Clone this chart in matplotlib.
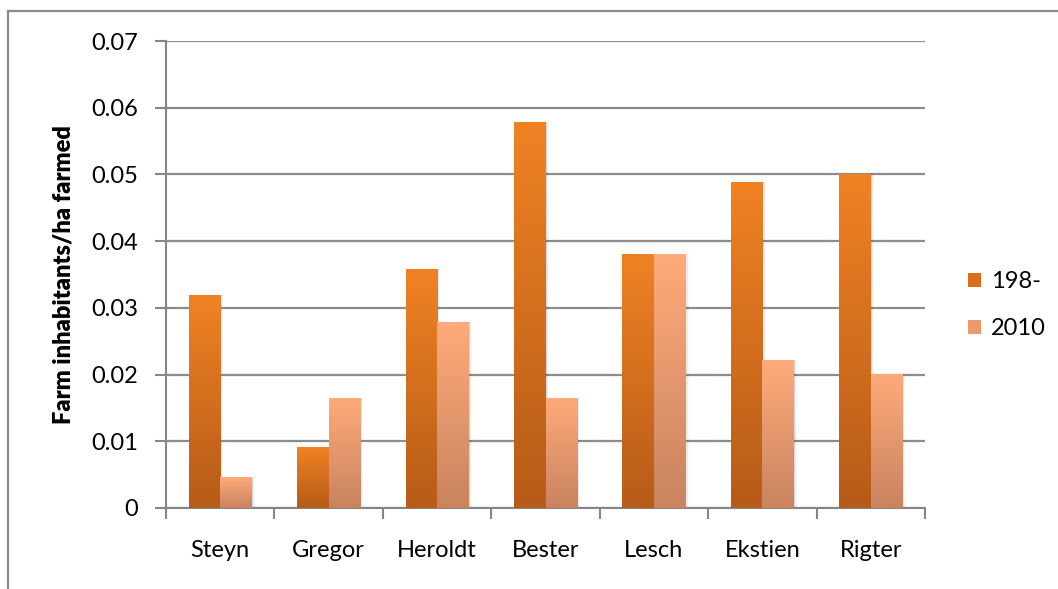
import numpy as np
import matplotlib.pyplot as plt
from matplotlib.lines import Line2D
from matplotlib.patches import Patch
from matplotlib.colors import LinearSegmentedColormap

plt.rcParams['font.family'] = ['Lato', 'DejaVu Sans']

farms = ["Steyn", "Gregor", "Heroldt", "Bester", "Lesch", "Ekstien", "Rigter"]
series_names = ["198-", "2010"]
vals_198 = [0.0319, 0.0091, 0.0358, 0.0579, 0.0381, 0.0489, 0.0501]
vals_2010 = [0.0046, 0.0165, 0.0279, 0.0165, 0.0381, 0.0222, 0.0201]
y_ticks = [0, 0.01, 0.02, 0.03, 0.04, 0.05, 0.06, 0.07]
y_tick_labels = ["0", "0.01", "0.02", "0.03", "0.04", "0.05", "0.06", "0.07"]

# top / bottom colours of the gradient fill
grad_198 = ("#f08224", "#b65b18")
grad_2010 = ("#ffab7a", "#c9835f")

W, H = 1058, 589
fig = plt.figure(figsize=(W / 100, H / 100), dpi=100)
ax = fig.add_axes([166 / W, 1 - 508 / H, (925 - 166) / W, (508 - 41) / H])

x = np.arange(len(farms))
bw = 0.29


def gradient_bars(xs, heights, colors):
    cmap = LinearSegmentedColormap.from_list("g", [colors[1], colors[0]])
    bars = ax.bar(xs, heights, width=bw, color="none", linewidth=0, zorder=3)
    grad = np.linspace(0, 1, 256).reshape(-1, 1)
    for b in bars:
        x0, w, h = b.get_x(), b.get_width(), b.get_height()
        # soft shadow on the right side
        for k, a in enumerate([0.08, 0.05, 0.025]):
            ax.bar(x0 + w / 2 + 0.01 * (k + 1), h, width=w, color="black",
                   alpha=a, linewidth=0, zorder=2)
        # each bar runs from its own light top to dark bottom
        im = ax.imshow(grad, extent=[x0, x0 + w, 0, h], origin="lower",
                       cmap=cmap, aspect="auto", zorder=3)
        im.set_clip_path(b)
    return bars


gradient_bars(x - bw / 2, vals_198, grad_198)
gradient_bars(x + bw / 2, vals_2010, grad_2010)

ax.set_xlim(-0.5, len(farms) - 0.5)
ax.set_ylim(0, 0.07)
ax.set_yticks(y_ticks)
ax.set_yticklabels(y_tick_labels)
ax.set_xticks(np.arange(-0.5, len(farms), 1.0))
ax.set_xticklabels([])
ax.set_xticks(x, minor=True)
ax.set_xticklabels(farms, minor=True)
ax.tick_params(axis="x", which="minor", length=0, pad=23, labelsize=17)
ax.tick_params(axis="x", which="major", length=8, width=1.5, color="#868686")
ax.tick_params(axis="y", length=8, width=1.5, color="#868686", labelsize=17, pad=12)

ax.grid(axis="y", color="#8c8c8c", linewidth=1.6, zorder=1)
ax.set_axisbelow(True)
for s in ["top", "right"]:
    ax.spines[s].set_visible(False)
for s in ["left", "bottom"]:
    ax.spines[s].set_color("#868686")
    ax.spines[s].set_linewidth(1.5)

ax.set_ylabel("Farm inhabitants/ha farmed", fontsize=17, fontweight="heavy", labelpad=12)

handles = [Patch(facecolor="#d96e1e", edgecolor="none"),
           Patch(facecolor="#eb9a6e", edgecolor="none")]
fig.legend(handles, series_names, loc="center left", bbox_to_anchor=(947 / W, 1 - 305 / H),
           frameon=False, fontsize=17, handlelength=0.55, handleheight=0.55,
           handletextpad=0.4, labelspacing=1.1)

# outer frame lines
fig.add_artist(Line2D([8 / W, 1], [1 - 11 / H, 1 - 11 / H], color="#8c8c8c", linewidth=1.6))
fig.add_artist(Line2D([8 / W, 8 / W], [0, 1 - 11 / H], color="#8c8c8c", linewidth=1.6))

fig.savefig("out.png", dpi=100)
